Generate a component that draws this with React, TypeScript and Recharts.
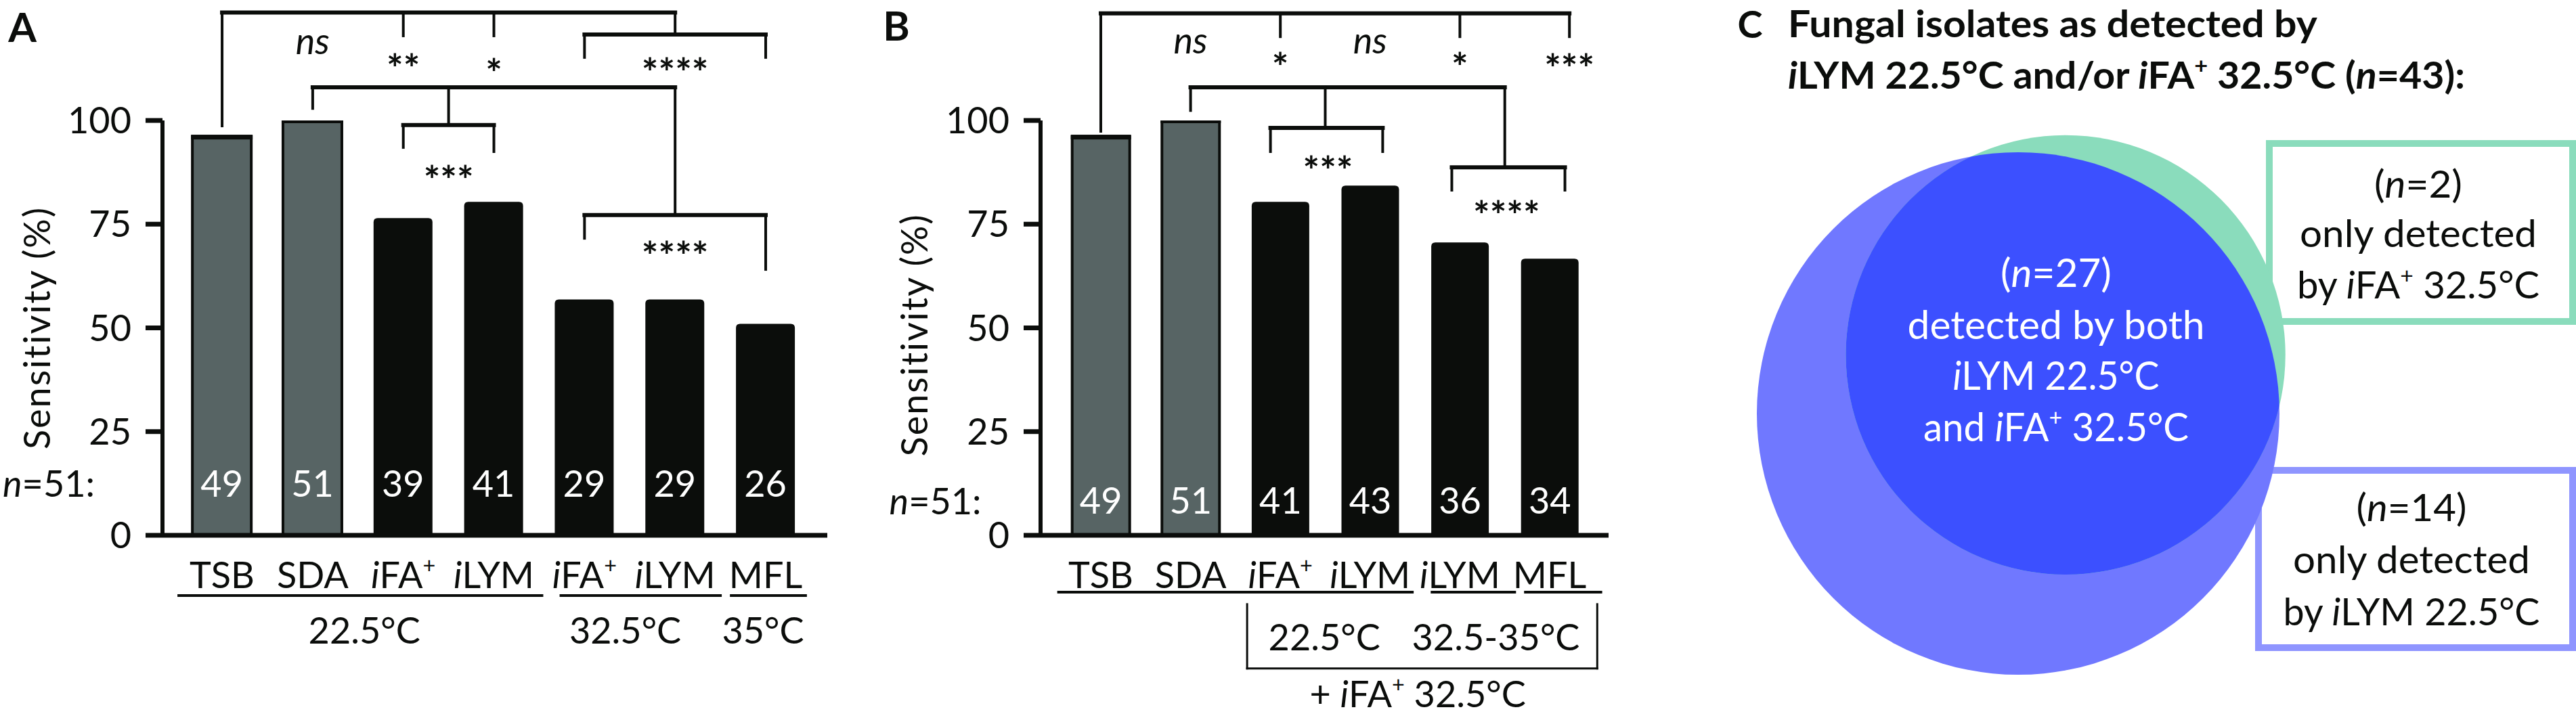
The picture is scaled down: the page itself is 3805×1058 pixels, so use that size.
import React from 'react';
import {
  BarChart,
  Bar,
  XAxis,
  YAxis,
  ZAxis,
  LabelList,
  ReferenceLine,
  ReferenceDot,
  ReferenceArea,
  ScatterChart,
  Scatter,
} from 'recharts';

const FONT = 'Lato, "Open Sans", sans-serif';
const BLACK = '#0b0d0b';
const GRAY = '#576464';

// markup: _x_ = italic, ^x^ = superscript
const categoriesA = ['TSB', 'SDA', '_i_FA^+^', '_i_LYM', '_i_FA^+^', '_i_LYM', 'MFL'];
const countsA = [49, 51, 39, 41, 29, 29, 26];
const tempGroupsA = ['22.5°C', '32.5°C', '35°C'];
const sigA = ['_ns_', '**', '*', '****', '***', '****'];

const categoriesB = ['TSB', 'SDA', '_i_FA^+^', '_i_LYM', '_i_LYM', 'MFL'];
const countsB = [49, 51, 41, 43, 36, 34];
const tempGroupsB = ['22.5°C', '32.5-35°C', '+ _i_FA^+^ 32.5°C'];
const sigB = ['_ns_', '*', '_ns_', '*', '***', '***', '****'];

const controlMedia = ['TSB', 'SDA'];
const totalIsolates = 51;
const sensitivityTicks = [0, 25, 50, 75, 100];

const onlyILYM = 14;
const onlyIFA = 2;
const bothMethods = 27;
const vennTitle = ['Fungal isolates as detected by', '_i_LYM 22.5°C and/or _i_FA^+^ 32.5°C (_n_=43):'];
const bothText = ['(_n_=27)', 'detected by both', '_i_LYM 22.5°C', 'and _i_FA^+^ 32.5°C'];
const onlyIFAText = ['(_n_=2)', 'only detected', 'by _i_FA^+^ 32.5°C'];
const onlyILYMText = ['(_n_=14)', 'only detected', 'by _i_LYM 22.5°C'];

type Seg = [number, number, number, number];

function rich(str: string, size: number) {
  const parts = str.split(/(_[^_]+_|\^[^^]+\^)/).filter((p) => p.length > 0);
  let restore = 0;
  return parts.map((p, i) => {
    const dy = restore || undefined;
    restore = 0;
    if (p.length > 2 && p[0] === '_' && p[p.length - 1] === '_') {
      return (
        <tspan key={i} dy={dy} fontStyle="italic">
          {p.slice(1, -1)}
        </tspan>
      );
    }
    if (p.length > 2 && p[0] === '^' && p[p.length - 1] === '^') {
      const lift = size * 0.4;
      restore = lift;
      return (
        <tspan key={i} dy={(dy || 0) - lift} fontSize={size * 0.6}>
          {p.slice(1, -1)}
        </tspan>
      );
    }
    return (
      <tspan key={i} dy={dy}>
        {p}
      </tspan>
    );
  });
}

type TextOpts = {
  size?: number;
  anchor?: 'start' | 'middle' | 'end';
  weight?: number;
  fill?: string;
  rotate?: number;
  spacing?: number;
  len?: number; // target width: the glyphs are stretched horizontally to fit
};

function textAt(label: string, o: TextOpts = {}) {
  const star = label.includes('*');
  const size = o.size ?? (star ? 58 : 54);
  const weight = o.weight ?? (star ? 700 : 400);
  const dy = star ? '0.6em' : label === '_ns_' ? '0.26em' : '0.36em';
  return (p: any) => {
    const fit = o.len
      ? (el: SVGTextElement | null) => {
          if (!el) return;
          el.removeAttribute('transform');
          const w = el.getComputedTextLength();
          if (w > 0) {
            const sx = (o.len as number) / w;
            el.setAttribute('transform', `matrix(${sx} 0 0 1 ${p.cx * (1 - sx)} 0)`);
          }
        }
      : undefined;
    return (
      <text
        ref={fit}
        x={p.cx}
        y={p.cy}
        dy={dy}
        textAnchor={o.anchor ?? 'middle'}
        fontSize={size}
        fontWeight={weight}
        fill={o.fill ?? BLACK}
        fontFamily={FONT}
        letterSpacing={o.spacing}
        transform={o.rotate ? `rotate(${o.rotate} ${p.cx} ${p.cy})` : undefined}
      >
        {rich(label, size)}
      </text>
    );
  };
}

function SensBar(props: any) {
  const { x, y, width, height, payload } = props;
  if (controlMedia.includes(payload?.label)) {
    return (
      <g>
        <rect x={x} y={y} width={width} height={height} fill={GRAY} stroke={BLACK} strokeWidth={4} />
        <rect x={x - 2} y={y - 3} width={width + 4} height={7} fill={BLACK} />
      </g>
    );
  }
  const r = 6;
  return (
    <path
      d={`M${x},${y + height} L${x},${y + r} Q${x},${y} ${x + r},${y} L${x + width - r},${y} Q${x + width},${y} ${x + width},${y + r} L${x + width},${y + height} Z`}
      fill={BLACK}
    />
  );
}

type PanelCfg = {
  letter: string;
  letterAt: [number, number];
  categories: string[];
  counts: number[];
  domain: [number, number];
  barSize: number;
  width: number;
  yAxisWidth: number;
  marginRight: number;
  countOffset: number;
  nAt: [number, number];
  yLabelAt: [number, number];
  brackets: Seg[];
  sigText: string[];
  sigAt: [number, number][];
  underlines: [number, number][];
  underlineY: number;
  groups: string[];
  groupAt: [number, number][];
  lowerBracket?: Seg[];
};

const panelA: PanelCfg = {
  letter: 'A',
  letterAt: [-2.205, 122.5],
  categories: categoriesA,
  counts: countsA,
  domain: [-0.658, 6.68],
  barSize: 87,
  width: 1250,
  yAxisWidth: 240,
  marginRight: 28,
  countOffset: 57,
  nAt: [-1.405, 12.4],
  yLabelAt: [-2.04, 50],
  brackets: [
    [0, 126, 5, 126], [0, 126, 0, 98.7], [2, 126, 2, 120.4], [3, 126, 3, 120.4], [5, 126, 5, 120.7],
    [4, 120.7, 6, 120.7], [4, 120.7, 4, 115.2], [6, 120.7, 6, 115.2],
    [1, 108, 5, 108], [1, 108, 1, 102.9], [2.5, 108, 2.5, 98.9], [5, 108, 5, 77.2],
    [2, 98.9, 3, 98.9], [2, 98.9, 2, 93.5], [3, 98.9, 3, 92.5],
    [4, 77.2, 6, 77.2], [4, 77.2, 4, 71.6], [6, 77.2, 6, 64.1],
  ],
  sigText: sigA,
  sigAt: [[1, 118.3], [2, 114.8], [3, 113.7], [5, 113.9], [2.5, 87.9], [5, 69.7]],
  underlines: [[-0.478, 3.53], [3.74, 5.5], [5.62, 6.44]],
  underlineY: -14.5,
  groups: tempGroupsA,
  groupAt: [[1.57, -23], [4.45, -23], [5.97, -23]],
};

const panelB: PanelCfg = {
  letter: 'B',
  letterAt: [-2.278, 122.7],
  categories: categoriesB,
  counts: countsB,
  domain: [-0.671, 5.656],
  barSize: 85,
  width: 1250,
  yAxisWidth: 287,
  marginRight: 124,
  countOffset: 32,
  nAt: [-1.33, 8.3],
  yLabelAt: [-2.08, 48.3],
  brackets: [
    [0, 125.8, 5.22, 125.8], [0, 125.8, 0, 97.4], [2, 125.8, 2, 120.2], [4, 125.8, 4, 120.2], [5.22, 125.8, 5.22, 120.2],
    [1, 108, 4.5, 108], [1, 108, 1, 102.4], [2.5, 108, 2.5, 98.2], [4.5, 108, 4.5, 88.7],
    [1.89, 98.2, 3.14, 98.2], [1.89, 98.2, 1.89, 92.5], [3.14, 98.2, 3.14, 92.5],
    [3.91, 88.7, 5.17, 88.7], [3.91, 88.7, 3.91, 83.2], [5.17, 88.7, 5.17, 83.2],
  ],
  sigText: sigB,
  sigAt: [[1, 118.4], [2, 115.2], [3, 118.4], [4, 115.2], [5.22, 114.8], [2.53, 90.2], [4.52, 79.4]],
  underlines: [[-0.47, 3.47], [3.69, 4.61], [4.73, 5.57]],
  underlineY: -13.7,
  groups: tempGroupsB,
  groupAt: [[2.49, -24.6], [4.4, -24.6], [3.53, -38.2]],
  lowerBracket: [[1.63, -16.6, 1.63, -32.1], [1.63, -32.1, 5.53, -32.1], [5.53, -32.1, 5.53, -16.6]],
};

function SensitivityPanel({ cfg }: { cfg: PanelCfg }) {
  const data = cfg.categories.map((c, i) => ({
    pos: i,
    label: c,
    n: cfg.counts[i],
    pct: (cfg.counts[i] / totalIsolates) * 100,
  }));
  const seg = (s: Seg, w: number, key: string) => (
    <ReferenceLine
      key={key}
      segment={[{ x: s[0], y: s[1] }, { x: s[2], y: s[3] }]}
      stroke={BLACK}
      strokeWidth={w}
      strokeLinecap="square"
      ifOverflow="visible"
    />
  );
  const dot = (x: number, y: number, shape: any, key: string) => (
    <ReferenceDot key={key} x={x} y={y} r={1} ifOverflow="visible" shape={shape} />
  );
  return (
    <BarChart
      width={cfg.width}
      height={1058}
      data={data}
      margin={{ top: 178, right: cfg.marginRight, bottom: 0, left: 0 }}
      style={{ fontFamily: FONT }}
    >
      <XAxis
        type="number"
        dataKey="pos"
        domain={cfg.domain}
        allowDataOverflow
        ticks={data.map((d) => d.pos)}
        interval={0}
        tickLine={false}
        tickSize={0}
        tickMargin={0}
        height={267}
        axisLine={{ stroke: BLACK, strokeWidth: 7 }}
        tick={(p: any) => (
          <text x={p.x} y={p.y} dy={78} textAnchor="middle" fontSize={54} fill={BLACK} fontFamily={FONT}>
            {rich(cfg.categories[Math.round(p.payload.value)] ?? '', 54)}
          </text>
        )}
      />
      <YAxis
        type="number"
        domain={[0, 100]}
        allowDataOverflow
        ticks={sensitivityTicks}
        interval={0}
        width={cfg.yAxisWidth}
        tickSize={25}
        tickMargin={21}
        axisLine={{ stroke: BLACK, strokeWidth: 6 }}
        tickLine={{ stroke: BLACK, strokeWidth: 7 }}
        tick={{ fill: BLACK, fontSize: 54, fontFamily: FONT }}
      />
      <Bar dataKey="pct" barSize={cfg.barSize} isAnimationActive={false} shape={<SensBar />}>
        <LabelList
          dataKey="n"
          position="insideBottom"
          offset={cfg.countOffset}
          fill="#ffffff"
          fontSize={54}
          fontFamily={FONT}
        />
      </Bar>
      {cfg.brackets.map((s, i) => seg(s, s[1] === s[3] ? 6 : 4, `b${i}`))}
      {cfg.underlines.map((u, i) => seg([u[0], cfg.underlineY, u[1], cfg.underlineY], 4, `u${i}`))}
      {(cfg.lowerBracket ?? []).map((s, i) => seg(s, 3, `l${i}`))}
      {cfg.sigText.map((t, i) => dot(cfg.sigAt[i][0], cfg.sigAt[i][1], textAt(t), `s${i}`))}
      {cfg.groups.map((g, i) => dot(cfg.groupAt[i][0], cfg.groupAt[i][1], textAt(g), `g${i}`))}
      {dot(cfg.nAt[0], cfg.nAt[1], textAt('_n_=51:', { anchor: 'end' }), 'n')}
      {dot(cfg.letterAt[0], cfg.letterAt[1], textAt(cfg.letter, { size: 60, weight: 700 }), 'letter')}
      {dot(cfg.yLabelAt[0], cfg.yLabelAt[1], textAt('Sensitivity (%)', { rotate: -90, spacing: 2 }), 'ylab')}
    </BarChart>
  );
}

// ---------- panel C: area-proportional Venn ----------
function lensArea(r1: number, r2: number, d: number) {
  if (d >= r1 + r2) return 0;
  if (d <= Math.abs(r1 - r2)) return Math.PI * Math.min(r1, r2) ** 2;
  const a1 = r1 * r1 * Math.acos((d * d + r1 * r1 - r2 * r2) / (2 * d * r1));
  const a2 = r2 * r2 * Math.acos((d * d + r2 * r2 - r1 * r1) / (2 * d * r2));
  const k = 0.5 * Math.sqrt((-d + r1 + r2) * (d + r1 - r2) * (d - r1 + r2) * (d + r1 + r2));
  return a1 + a2 - k;
}

function centreDistance(r1: number, r2: number, overlap: number) {
  let lo = Math.abs(r1 - r2);
  let hi = r1 + r2;
  for (let i = 0; i < 60; i++) {
    const mid = (lo + hi) / 2;
    if (lensArea(r1, r2, mid) > overlap) lo = mid;
    else hi = mid;
  }
  return (lo + hi) / 2;
}

const totalILYM = onlyILYM + bothMethods;
const totalIFA = onlyIFA + bothMethods;
const rILYM = Math.sqrt(totalILYM / Math.PI);
const rIFA = Math.sqrt(totalIFA / Math.PI);
const centreGap = centreDistance(rILYM, rIFA, bothMethods);
const gapAngle = (51 * Math.PI) / 180;

const C_LEFT = 2500;
const C_W = 1305;
const C_H = 1058;
const PPU = 386 / rILYM;
const ILYM_AT = [481, 611];
const ux = (px: number) => (px - C_LEFT - ILYM_AT[0]) / PPU;
const uy = (py: number) => (ILYM_AT[1] - py) / PPU;

const ilymData = [{ x: 0, y: 0, z: totalILYM }];
const ifaData = [{ x: centreGap * Math.cos(gapAngle), y: centreGap * Math.sin(gapAngle), z: totalIFA }];

function vennShape(fill: string, clipDef?: string, clipUse?: string) {
  return (p: any) => {
    const r = Math.sqrt(Math.max(p.size || 0, 0) / Math.PI);
    return (
      <g>
        {clipDef && (
          <defs>
            <clipPath id={clipDef}>
              <circle cx={p.cx} cy={p.cy} r={r} />
            </clipPath>
          </defs>
        )}
        <circle cx={p.cx} cy={p.cy} r={r} fill={fill} clipPath={clipUse ? `url(#${clipUse})` : undefined} />
      </g>
    );
  };
}

function VennPanel() {
  const dot = (px: number, py: number, shape: any, key: string) => (
    <ReferenceDot key={key} x={ux(px)} y={uy(py)} r={1} ifOverflow="visible" shape={shape} />
  );
  const box = (x1: number, y1: number, x2: number, y2: number, color: string) => (
    <ReferenceArea
      x1={ux(x1)}
      x2={ux(x2)}
      y1={uy(y2)}
      y2={uy(y1)}
      fill="#ffffff"
      fillOpacity={1}
      stroke={color}
      strokeWidth={10}
      ifOverflow="visible"
    />
  );
  const titleLen = [782, 1000];
  const bothLen = [164, 439, 305, 392];
  const ifaLen = [130, 350, 358];
  const ilymLen = [163, 350, 379];
  return (
    <ScatterChart width={C_W} height={C_H} margin={{ top: 0, right: 0, bottom: 0, left: 0 }} style={{ fontFamily: FONT }}>
      <XAxis type="number" dataKey="x" hide domain={[ux(C_LEFT), ux(C_LEFT + C_W)]} allowDataOverflow />
      <YAxis type="number" dataKey="y" hide domain={[uy(C_H), uy(0)]} allowDataOverflow />
      <ZAxis type="number" dataKey="z" domain={[0, totalILYM]} range={[0, PPU * PPU * totalILYM]} />
      <Scatter data={ilymData} isAnimationActive={false} shape={vennShape('#7078ff', 'ilymClip')} />
      <Scatter data={ifaData} isAnimationActive={false} shape={vennShape('#8adcbc')} />
      <Scatter data={ifaData} isAnimationActive={false} shape={vennShape('#3c50ff', undefined, 'ilymClip')} />
      {box(3352, 212, 3800, 475, '#8adcbc')}
      {box(3336, 695, 3800, 957, '#8f95ff')}
      {dot(2585, 36, textAt('C', { size: 56, weight: 700 }), 'letter')}
      {vennTitle.map((t, i) =>
        dot(2641, [35, 111][i], textAt(t, { size: 55, weight: 700, anchor: 'start', len: titleLen[i] }), `t${i}`),
      )}
      {bothText.map((t, i) =>
        dot(3037, [403, 480, 555, 631][i], textAt(t, { size: 58, fill: '#ffffff', len: bothLen[i] }), `bt${i}`),
      )}
      {onlyIFAText.map((t, i) => dot(3572, [272, 345, 421][i], textAt(t, { size: 56, len: ifaLen[i] }), `ft${i}`))}
      {onlyILYMText.map((t, i) => dot(3562, [750, 827, 904][i], textAt(t, { size: 56, len: ilymLen[i] }), `lt${i}`))}
    </ScatterChart>
  );
}

export default function App() {
  return (
    <div style={{ position: 'relative', width: 3805, height: 1058, background: '#fff', fontFamily: FONT }}>
      <style>{'body{margin:0;background:#fff}'}</style>
      <div style={{ position: 'absolute', left: 0, top: 0 }}>
        <SensitivityPanel cfg={panelA} />
      </div>
      <div style={{ position: 'absolute', left: 1250, top: 0 }}>
        <SensitivityPanel cfg={panelB} />
      </div>
      <div style={{ position: 'absolute', left: C_LEFT, top: 0 }}>
        <VennPanel />
      </div>
    </div>
  );
}
